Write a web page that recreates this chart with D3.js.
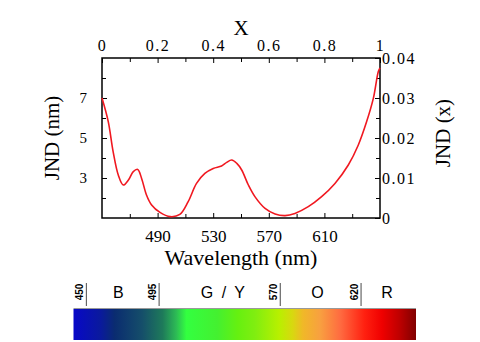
<!DOCTYPE html>
<meta charset="utf-8">
<head>
<style>
body { margin: 0; background: #fff; }
.axis text { font: 15px "Liberation Serif", serif; fill: #000; }
.axis path, .axis line { fill: none; stroke: #000; }
.top text { font-size: 16px; letter-spacing: 1.5px; }
.bottom text { font-size: 17px; }
.right text { font-size: 16px; letter-spacing: 1.5px; }
.title { font: 21px "Liberation Serif", serif; }
.band { font: 16px "Liberation Sans", sans-serif; }
.edge { font: bold 10px "Liberation Sans", sans-serif; }
</style>
</head>
<body>
<script src="https://d3js.org/d3.v7.min.js"></script>
<script>

// JND curve
var wavelength = [450, 454.5, 458, 461.7, 465.3, 469, 472.5, 475.7, 478.5, 482, 485.7, 491.7, 499, 506, 512, 518, 524, 530, 536, 539.7, 543.3, 547, 550.5, 555.3, 560, 567.3, 574.5, 581.7, 588.8, 598.4, 608, 617.6, 627.2, 634.4, 640.4, 645.2, 648.8, 650];
var jndNm = [7.0, 5.82, 4.32, 3.15, 2.65, 2.9, 3.32, 3.43, 2.98, 2.15, 1.65, 1.28, 1.07, 1.18, 1.82, 2.73, 3.23, 3.48, 3.6, 3.78, 3.9, 3.73, 3.4, 2.65, 2.07, 1.48, 1.2, 1.12, 1.23, 1.57, 2.07, 2.73, 3.65, 4.65, 5.82, 6.98, 8.32, 8.5];

var nmTicks = [490, 530, 570, 610];
var jndTicks = [3, 5, 7];
var xTicks = [0, 0.2, 0.4, 0.6, 0.8, 1];
var jndXTicks = [0, 0.01, 0.02, 0.03, 0.04];

// spectrum strip
var bandEdges = [450, 495, 570, 620];
var bandNames = ["B", "G / Y", "O", "R"];
var bandCenters = [469.7, 534.5, 593, 636];
var specStops = [
  [0, "#0808c8"], [0.08, "#0a1a9c"], [0.12, "#0a2c70"], [0.2, "#154e6a"],
  [0.26, "#1e7a5a"], [0.3, "#2dbb55"], [0.33, "#33ff40"], [0.42, "#44f030"],
  [0.48, "#66f010"], [0.53, "#80ee10"], [0.6, "#b8f000"], [0.64, "#d8d810"],
  [0.67, "#f0b828"], [0.72, "#f8a040"], [0.78, "#ff6a40"], [0.85, "#ff2010"],
  [0.9, "#f00000"], [0.95, "#c00000"], [1, "#800000"]];

var width = 480, height = 342;
var plot = {left: 102, right: 380, top: 58, bottom: 218};

var svg = d3.select("body").append("svg")
    .attr("width", width)
    .attr("height", height);

var x = d3.scaleLinear().domain([450, 650]).range([plot.left, plot.right]);
var xTop = d3.scaleLinear().domain([0, 1]).range([plot.left, plot.right]);
var y = d3.scaleLinear().domain([1, 9]).range([plot.bottom, plot.top]);
var yRight = d3.scaleLinear().domain([0, 0.04]).range([plot.bottom, plot.top]);

var ph = plot.bottom - plot.top, pw = plot.right - plot.left;

// minor ticks (inward, no labels)
function minor(a) {
  a.select(".domain").remove();
  a.selectAll("text").remove();
}
svg.append("g").attr("class", "axis")
    .attr("transform", "translate(0," + plot.bottom + ")")
    .call(d3.axisBottom(x).tickValues([470, 510, 550, 590, 630]).tickSize(-4))
    .call(minor);
svg.append("g").attr("class", "axis")
    .attr("transform", "translate(0," + plot.top + ")")
    .call(d3.axisTop(xTop).tickValues([0.1, 0.3, 0.5, 0.7, 0.9]).tickSize(-4))
    .call(minor);
svg.append("g").attr("class", "axis")
    .attr("transform", "translate(" + plot.left + ",0)")
    .call(d3.axisLeft(y).tickValues([2, 4, 6, 8]).tickSize(-4))
    .call(minor);
svg.append("g").attr("class", "axis")
    .attr("transform", "translate(" + plot.right + ",0)")
    .call(d3.axisRight(yRight).tickValues([0.005, 0.015, 0.025, 0.035]).tickSize(-4))
    .call(minor);

// major axes
var gb = svg.append("g").attr("class", "axis bottom")
    .attr("transform", "translate(0," + plot.bottom + ")")
    .call(d3.axisBottom(x).tickValues(nmTicks).tickSize(-5).tickPadding(12).tickFormat(d3.format("d")));
gb.select(".domain").remove();

var gt = svg.append("g").attr("class", "axis top")
    .attr("transform", "translate(0," + plot.top + ")")
    .call(d3.axisTop(xTop).tickValues(xTicks).tickSize(-5).tickPadding(7)
      .tickFormat(function(d) { return d === 0 || d === 1 ? d : d3.format(".1f")(d); }));
gt.select(".domain").remove();

var gl = svg.append("g").attr("class", "axis")
    .attr("transform", "translate(" + plot.left + ",0)")
    .call(d3.axisLeft(y).tickValues(jndTicks).tickSize(-5).tickPadding(15));
gl.select(".domain").remove();

var gr = svg.append("g").attr("class", "axis right")
    .attr("transform", "translate(" + plot.right + ",0)")
    .call(d3.axisRight(yRight).tickValues(jndXTicks).tickSize(-5).tickPadding(2)
      .tickFormat(function(d) { return d === 0 ? "0" : d3.format(".2f")(d); }));
gr.select(".domain").remove();

// frame
svg.append("rect")
    .attr("x", plot.left).attr("y", plot.top)
    .attr("width", pw).attr("height", ph)
    .attr("fill", "none").attr("stroke", "#000").attr("stroke-width", 1.5);

// curve
var line = d3.line()
    .x(function(d, i) { return x(wavelength[i]); })
    .y(function(d) { return y(d); })
    .curve(d3.curveCatmullRom);

svg.append("path")
    .datum(jndNm)
    .attr("d", line)
    .attr("fill", "none")
    .attr("stroke", "#f01820")
    .attr("stroke-width", 1.6);

// titles
svg.append("text").attr("class", "title")
    .attr("x", (plot.left + plot.right) / 2).attr("y", 35)
    .attr("text-anchor", "middle").text("X");
svg.append("text").attr("class", "title")
    .attr("x", (plot.left + plot.right) / 2).attr("y", 265)
    .attr("text-anchor", "middle").style("font-size", "22px").text("Wavelength (nm)");
svg.append("text").attr("class", "title")
    .attr("transform", "translate(59,138) rotate(-90)")
    .attr("text-anchor", "middle").text("JND (nm)");
svg.append("text").attr("class", "title")
    .attr("transform", "translate(450,133) rotate(-90)")
    .attr("text-anchor", "middle").text("JND (x)");

// spectrum bar
var s = d3.scaleLinear().domain([442, 654]).range([73.5, 416]);

var grad = svg.append("defs").append("linearGradient")
    .attr("id", "spec").attr("x1", "0%").attr("x2", "100%");
grad.selectAll("stop").data(specStops).enter().append("stop")
    .attr("offset", function(d) { return d[0]; })
    .attr("stop-color", function(d) { return d[1]; });

svg.append("rect")
    .attr("x", s(442)).attr("y", 309)
    .attr("width", s(654) - s(442)).attr("height", 31)
    .attr("fill", "url(#spec)");
svg.append("line")
    .attr("x1", s(442)).attr("x2", s(654))
    .attr("y1", 308.5).attr("y2", 308.5)
    .attr("stroke", "#999").attr("stroke-width", 1);

svg.selectAll(".sep").data(bandEdges).enter().append("line")
    .attr("class", "sep")
    .attr("x1", function(d) { return s(d); }).attr("x2", function(d) { return s(d); })
    .attr("y1", 283).attr("y2", 306)
    .attr("stroke", "#666").attr("stroke-width", 1.2);

svg.selectAll(".edge").data(bandEdges).enter().append("text")
    .attr("class", "edge")
    .attr("transform", function(d) { return "translate(" + (s(d) - 3) + ",292) rotate(-90)"; })
    .attr("text-anchor", "middle")
    .text(function(d) { return d; });

svg.selectAll(".band").data(bandNames).enter().append("text")
    .attr("class", "band")
    .attr("x", function(d, i) { return s(bandCenters[i]); })
    .attr("y", 298)
    .attr("text-anchor", "middle")
    .style("word-spacing", "4px")
    .text(function(d) { return d; });

</script>
</body>
